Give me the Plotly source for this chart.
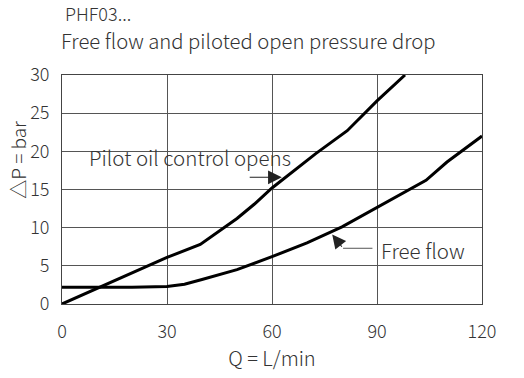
import plotly.graph_objects as go

# Data
free_q = [0, 10, 20, 30, 35, 40, 50, 60, 70, 80, 90, 100, 104, 110, 120]
free_p = [2.2, 2.2, 2.2, 2.3, 2.6, 3.2, 4.5, 6.2, 8.0, 10.1, 12.6, 15.2, 16.2, 18.6, 22.0]

pilot_q = [0, 30, 39.5, 50, 55, 60, 72.5, 81.5, 90, 98]
pilot_p = [0, 6.1, 7.8, 11.2, 13.1, 15.2, 19.7, 22.7, 26.6, 30]

x_ticks = [0, 30, 60, 90, 120]
y_ticks = [0, 5, 10, 15, 20, 25, 30]

FONT = "Noto Sans CJK SC"
TXT = "#333333"
W = 300

fig = go.Figure()
fig.add_trace(go.Scatter(x=free_q, y=free_p, mode="lines",
                         line=dict(color="black", width=3), showlegend=False))
fig.add_trace(go.Scatter(x=pilot_q, y=pilot_p, mode="lines",
                         line=dict(color="black", width=3), showlegend=False))

fig.update_layout(
    width=524, height=378,
    margin=dict(l=62, r=42, t=75, b=74, autoexpand=False),
    paper_bgcolor="white", plot_bgcolor="white",
    font=dict(family=FONT, color=TXT, size=16, weight=W),
    showlegend=False,
)
fig.update_xaxes(range=[0, 120], tickvals=x_ticks, showgrid=True, gridcolor="#555555",
                 gridwidth=1, showline=True, linecolor="#444444", linewidth=1, mirror=True,
                 zeroline=False, ticks="", ticklabelstandoff=11, automargin=False,
                 tickfont=dict(size=18, color=TXT, weight=W),
                 title=dict(text="Q = L/min", font=dict(size=20, color=TXT, weight=W), standoff=10))
fig.update_yaxes(range=[0, 30], tickvals=y_ticks, showgrid=True, gridcolor="#555555",
                 gridwidth=1, showline=True, linecolor="#444444", linewidth=1, mirror=True,
                 zeroline=False, ticks="", ticklabelstandoff=8, automargin=False,
                 tickfont=dict(size=18, color=TXT, weight=W))

# Y axis title (placed above the axis centre as in the reference)
fig.add_annotation(text="△P = bar", xref="paper", yref="paper", x=-0.105, y=0.63,
                   xanchor="center", yanchor="middle", textangle=-90, showarrow=False,
                   font=dict(size=19, color=TXT, family=FONT, weight=W))

# Titles
fig.add_annotation(text="PHF03...", xref="paper", yref="paper", x=0.003, y=1.272,
                   xanchor="left", yanchor="middle", showarrow=False,
                   font=dict(size=18, color=TXT, family=FONT, weight=W))
fig.add_annotation(text="Free flow and piloted open pressure drop", xref="paper", yref="paper",
                   x=-0.007, y=1.153, xanchor="left", yanchor="middle", showarrow=False,
                   font=dict(size=20.3, color=TXT, family=FONT, weight=W))

# Curve labels
fig.add_annotation(text="Pilot oil control opens", x=7.0, y=19.2, xanchor="left",
                   yanchor="middle", showarrow=False,
                   font=dict(size=20.5, color=TXT, family=FONT, weight=W))
fig.add_annotation(text="", x=62.8, y=16.6, ax=53.2, ay=16.6, axref="x", ayref="y",
                   showarrow=True, arrowhead=2, arrowsize=2.5, arrowwidth=1.1,
                   arrowcolor="#222222")
fig.add_annotation(text="", x=77.2, y=9.1, ax=80.3, ay=7.3, axref="x", ayref="y",
                   showarrow=True, arrowhead=2, arrowsize=2.5, arrowwidth=1.1,
                   arrowcolor="#222222")
fig.add_shape(type="line", x0=80.3, y0=7.3, x1=88.7, y1=7.3,
              line=dict(color="#555555", width=1))
fig.add_annotation(text="Free flow", x=90.6, y=7.1, xanchor="left", yanchor="middle",
                   showarrow=False, font=dict(size=20.5, color=TXT, family=FONT, weight=W))

fig.write_html("out.html", config={"displayModeBar": False},
               post_script="document.body.style.margin='0px';")
